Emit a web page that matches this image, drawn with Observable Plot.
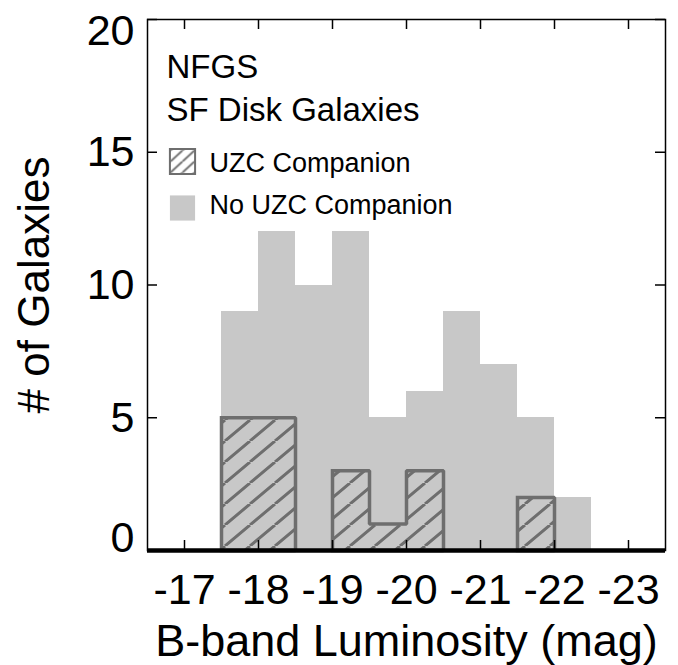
<!DOCTYPE html>
<html>
<head>
<meta charset="utf-8">
<script src="https://cdn.jsdelivr.net/npm/d3@7"></script>
<script src="https://cdn.jsdelivr.net/npm/@observablehq/plot@0.6"></script>
<style>
  html, body { margin: 0; padding: 0; background: #fff; }
  #chart svg { display: block; }
</style>
</head>
<body>
<div id="chart"></div>
<script>
// ---- data ----
const binStarts = [-17.5, -18, -18.5, -19, -19.5, -20, -20.5, -21, -21.5, -22];
const binWidth = 0.5;
const noCompanionCounts = [9, 12, 10, 12, 5, 6, 9, 7, 5, 2];
const companionCounts = [5, 5, 0, 3, 1, 3, 0, 0, 2, 0];
const xTicks = [-17, -18, -19, -20, -21, -22, -23];
const yTicks = [0, 5, 10, 15, 20];
const legendTitles = ["NFGS", "SF Disk Galaxies"];
const legendLabels = ["UZC Companion", "No UZC Companion"];
const xLabel = "B-band Luminosity (mag)";
const yLabel = "# of Galaxies";

// ---- layout / style ----
const W = 678, H = 665;
const mL = 147, mR = 13, mT = 19, mB = 115;
const frameW = W - mL - mR, frameH = H - mT - mB;
const grayFill = "#c8c8c8";
const hatchColor = "#6e6e6e";
const font = "'Liberation Sans', Arial, Helvetica, sans-serif";

const bins = binStarts.map((s, i) => ({
  x0: s, x1: s - binWidth, total: noCompanionCounts[i], comp: companionCounts[i]
}));

// step outline of the companion histogram (closed polygon per contiguous run)
const outline = [];
let g = -1, run = null;
bins.forEach((b, i) => {
  if (b.comp > 0) {
    if (!run) { g++; run = []; run.push({x: b.x0, y: 0, g}); }
    run.push({x: b.x0, y: b.comp, g}, {x: b.x1, y: b.comp, g});
  }
  if ((b.comp <= 0 || i === bins.length - 1) && run) {
    const last = run[run.length - 1];
    run.push({x: last.x, y: 0, g}, {x: run[0].x, y: 0, g}, {x: run[0].x, y: run[1].y, g});
    outline.push(...run);
    run = null;
  }
});

const txt = (label, o) => Plot.text([label], {text: d => d, lineAnchor: "middle", ...o});

const svg = Plot.plot({
  width: W, height: H,
  marginLeft: mL, marginRight: mR, marginTop: mT, marginBottom: mB,
  style: {fontFamily: font, color: "black", background: "white", overflow: "visible"},
  x: {domain: [-16.5, -23.5]},
  y: {domain: [0, 20]},
  marks: [
    Plot.rectY(bins, {x1: "x0", x2: "x1", y: "total", fill: grayFill, shapeRendering: "crispEdges"}),
    Plot.rectY(bins.filter(d => d.comp > 0), {x1: "x0", x2: "x1", y: "comp", fill: "url(#uzcHatch)"}),
    Plot.line(outline, {x: "x", y: "y", z: "g", stroke: hatchColor, strokeWidth: 3.5,
      strokeLinejoin: "miter", strokeLinecap: "square"}),
    Plot.frame({stroke: "black", strokeWidth: 1.5}),
    // inward ticks
    Plot.ruleY(yTicks, {y: d => d, insetRight: frameW - 10, stroke: "black", strokeWidth: 1.5}),
    Plot.ruleY(yTicks, {y: d => d, insetLeft: frameW - 10, stroke: "black", strokeWidth: 1.5}),
    Plot.ruleX(xTicks, {x: d => d, insetTop: frameH - 10, stroke: "black", strokeWidth: 1.5}),
    Plot.ruleX(xTicks, {x: d => d, insetBottom: frameH - 10, stroke: "black", strokeWidth: 1.5}),
    Plot.ruleY([0], {stroke: "black", strokeWidth: 4.5}),
    // tick labels
    Plot.axisX({ticks: xTicks, tickSize: 0, tickPadding: 23, tickFormat: d => String(d),
      fontSize: 43, label: null}),
    Plot.axisY({ticks: yTicks.filter(t => t > 0 && t < 20), tickSize: 0, tickPadding: 13,
      tickFormat: d => String(d), fontSize: 43, label: null}),
    Plot.axisY({ticks: yTicks.filter(t => t === 20), tickSize: 0, tickPadding: 13, dy: 12,
      tickFormat: d => String(d), fontSize: 43, label: null}),
    Plot.axisY({ticks: yTicks.filter(t => t === 0), tickSize: 0, tickPadding: 13, dy: -12,
      tickFormat: d => String(d), fontSize: 43, label: null}),
    // axis titles
    txt(xLabel, {frameAnchor: "bottom", dy: 91, textAnchor: "middle", fontSize: 45}),
    txt(yLabel, {frameAnchor: "left", dx: -113, rotate: -90, textAnchor: "middle", fontSize: 44}),
    // legend
    txt(legendTitles[0], {frameAnchor: "top-left", dx: 19, dy: 48, textAnchor: "start", fontSize: 33}),
    txt(legendTitles[1], {frameAnchor: "top-left", dx: 19, dy: 91, textAnchor: "start", fontSize: 33}),
    Plot.dot([legendLabels[0]], {frameAnchor: "top-left", dx: 35, dy: 142, symbol: "square", r: 14.2,
      fill: "url(#uzcHatchSmall)", stroke: hatchColor, strokeWidth: 2}),
    Plot.dot([legendLabels[1]], {frameAnchor: "top-left", dx: 35, dy: 188.5, symbol: "square", r: 14.2,
      fill: grayFill, stroke: "none"}),
    txt(legendLabels[0], {frameAnchor: "top-left", dx: 62, dy: 144, textAnchor: "start", fontSize: 27}),
    txt(legendLabels[1], {frameAnchor: "top-left", dx: 62, dy: 186, textAnchor: "start", fontSize: 27})
  ]
});

// hatch patterns
function addHatch(defs, id, pw, ph, sw, bg) {
  const p = defs.append("pattern").attr("id", id).attr("patternUnits", "userSpaceOnUse")
    .attr("width", pw).attr("height", ph);
  if (bg) p.append("rect").attr("width", pw).attr("height", ph).attr("fill", bg);
  p.append("path")
    .attr("d", `M${-pw},${ph}L0,0M0,${ph}L${pw},0M${pw},${ph}L${2 * pw},0`)
    .attr("stroke", hatchColor).attr("stroke-width", sw).attr("fill", "none");
}
const defs = d3.select(svg).insert("defs", ":first-child");
addHatch(defs, "uzcHatch", 25, 21, 3, null);
addHatch(defs, "uzcHatchSmall", 12, 11, 2, "white");

document.getElementById("chart").appendChild(svg);
</script>
</body>
</html>
